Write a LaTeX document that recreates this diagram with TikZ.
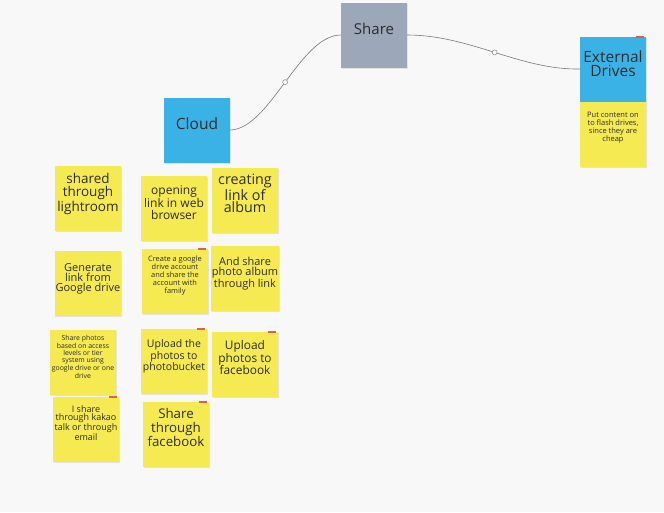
\documentclass[tikz,border=0pt]{standalone}
\usepackage{fontspec}
\setmainfont{Open Sans}
\usetikzlibrary{shadows,calc}
\definecolor{boardbg}{RGB}{248,248,248}
\definecolor{noteyellow}{RGB}{246,234,82}
\definecolor{noteblue}{RGB}{58,178,230}
\definecolor{notegray}{RGB}{156,167,185}
\definecolor{notetext}{RGB}{45,45,45}
\definecolor{tagred}{RGB}{232,92,72}
\definecolor{linkgray}{RGB}{120,120,120}

\begin{document}
\begin{tikzpicture}[
  x=1pt, y=-1pt,
  note/.style 2 args = {minimum width=66pt, minimum height=65pt, inner sep=1pt,
    align=center, text=notetext, font=\fontsize{#1}{#2}\selectfont,
    drop shadow={opacity=.18, shadow xshift=.8pt, shadow yshift=-1.4pt}},
  yellownote/.style 2 args = {note={#1}{#2}, fill=noteyellow},
  bluenote/.style 2 args = {note={#1}{#2}, fill=noteblue},
  graynote/.style 2 args = {note={#1}{#2}, fill=notegray},
  lift/.style = {text depth=#1},
  link/.style = {draw=linkgray, semithick},
  joint/.style = {circle, draw=linkgray, fill=boardbg, inner sep=0pt, minimum size=5pt, thin},
  ]
  \fill[boardbg] (0,0) rectangle (664,512);
  \useasboundingbox (0,0) rectangle (664,512);

  % headings
  \node[graynote={15}{16}, lift=13pt] (share) at (374,35) {Share};
  \node[bluenote={15.5}{16}, lift=13pt] (cloud) at (197,130) {Cloud};
  \node[bluenote={15.5}{14.5}, lift=11pt] (ext) at (613,69) {External\\Drives};
  \node[yellownote={7.5}{8}, lift=14pt] (flash) at (613,134) {Put content on\\to flash drives,\\since they are\\cheap};

  % cloud notes
  \node[yellownote={13.5}{13}, lift=11pt] (lightroom) at (88,198) {shared\\through\\lightroom};
  \node[yellownote={12}{11.5}, lift=11pt] (browser) at (174,208) {opening\\link in web\\browser};
  \node[yellownote={14.3}{12.8}, lift=13pt] (album) at (245,200) {creating\\link of\\album};
  \node[yellownote={11}{10.2}, lift=11pt] (glink) at (88,283) {Generate\\link from\\Google drive};
  \node[yellownote={7.4}{8}, lift=12pt] (gdrive) at (175,281) {Create a google\\drive account\\and share the\\account with\\family};
  \node[yellownote={11}{10.2}, lift=12pt] (albumlink) at (245,278) {And share\\photo album\\through link};
  \node[yellownote={6.9}{6.8}, lift=10pt] (access) at (83,362) {Share photos\\based on access\\levels or tier\\system using\\google drive or one\\drive};
  \node[yellownote={10.5}{10}, lift=11pt] (photobucket) at (174,361) {Upload the\\photos to\\photobucket};
  \node[yellownote={11.9}{12.5}, lift=13pt] (fbupload) at (245,364) {Upload\\photos to\\facebook};
  \node[yellownote={9}{8.7}, lift=12pt] (kakao) at (86,429) {I share\\through kakao\\talk or through\\email};
  \node[yellownote={13.3}{13.3}, lift=13pt] (fbshare) at (176,434) {Share\\through\\facebook};

  % small red tags
  \foreach \n in {ext,gdrive,photobucket,fbupload,kakao,fbshare} {
    \fill[tagred] ($(\n.north east)+(-10,-.5)$) rectangle ++(8,2);
  }

  % links
  \draw[link] (cloud.east) .. controls (270,129) and (300,35) .. (share.west)
    node[joint, pos=.5] {};
  \draw[link] (share.east) .. controls (470,35) and (520,70) .. (ext.west)
    node[joint, pos=.5] {};
\end{tikzpicture}
\end{document}
